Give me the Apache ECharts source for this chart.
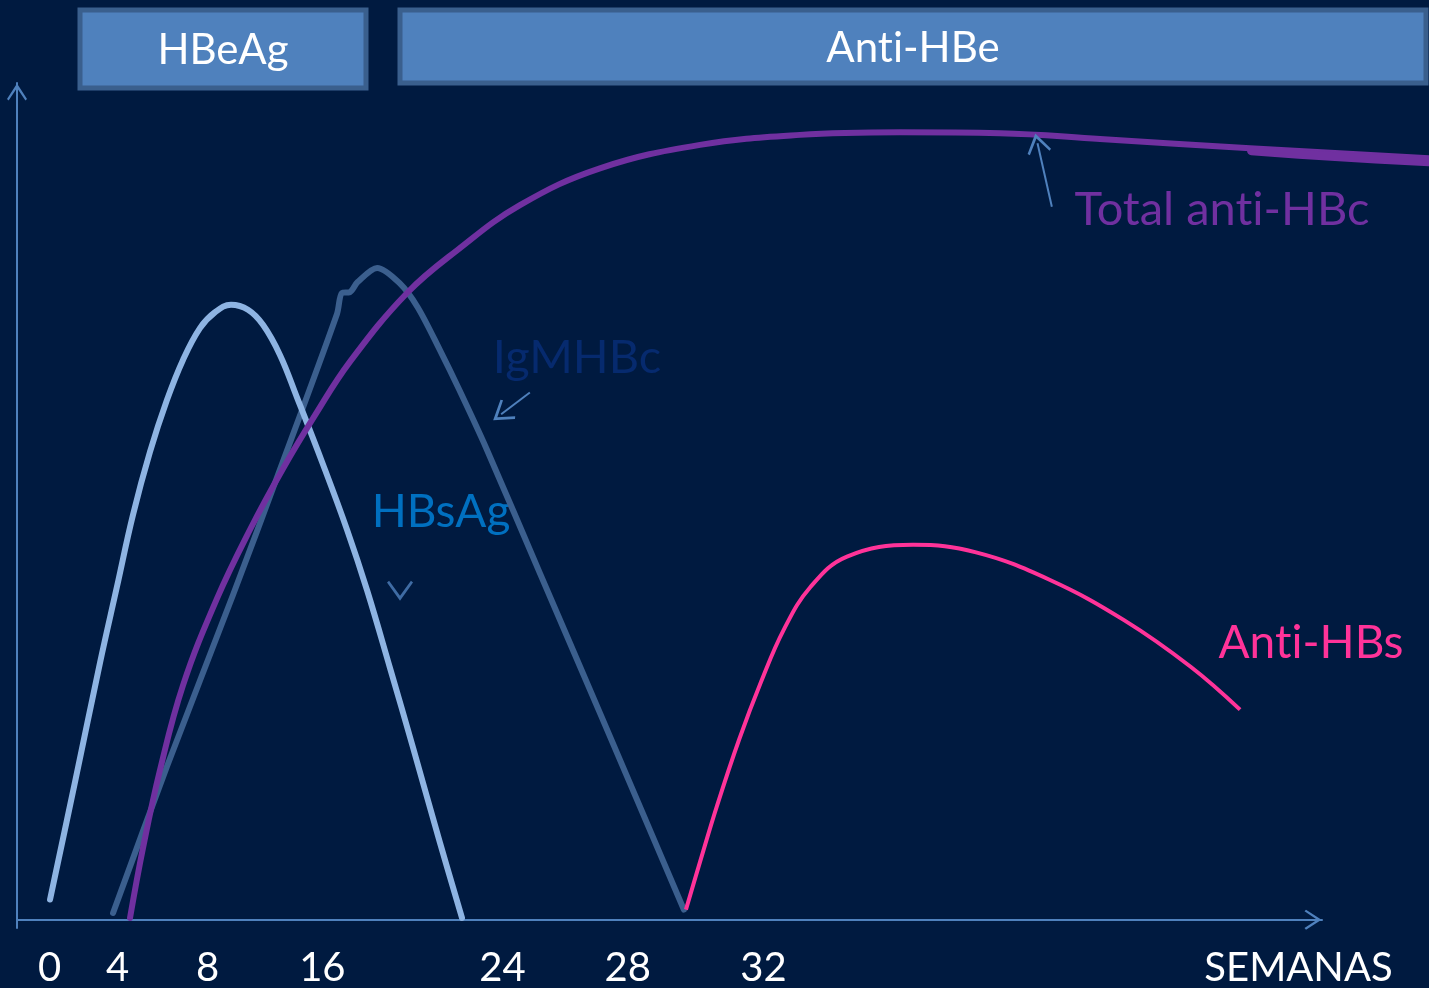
<!DOCTYPE html>
<html>
<head>
<meta charset="utf-8">
<script src="https://cdn.jsdelivr.net/npm/echarts@6/dist/echarts.min.js"></script>
<style>
html,body{margin:0;padding:0;background:#001a40;}
#chart{width:1429px;height:988px;}
</style>
</head>
<body>
<div id="chart"></div>
<script>
// x: schematic time position (0-100 along the drawn axis), y: relative level (0-100)
const tickPositions = [2.5, 7.7, 14.6, 23.4, 37.2, 46.8, 57.2, 98.2];
const tickLabels = ['0', '4', '8', '16', '24', '28', '32', 'SEMANAS'];

const hbsag = [[2.53,2.4],[4.44,16.4],[6.36,30.7],[7.66,39.8],[8.89,48.4],[10.19,55.9],[11.49,62.1],[12.72,66.9],[14.02,70.7],[15.17,72.6],[16.40,73.5],[17.70,72.9],[18.85,71.1],[20.15,67.5],[21.46,62.4],[23.45,54.4],[25.29,46.6],[26.82,39.4],[28.58,30.1],[30.34,20.6],[32.41,9.2],[34.10,0.2]];
const igmHbc = [[7.36,0.8],[11.49,18.3],[16.55,38.8],[20.15,53.8],[24.52,72.4],[24.9,74.9],[25.5,75.0],[26.1,76.2],[27.6,77.9],[29.3,76.1],[30.7,73.2],[32.4,68.1],[33.9,63.3],[36.0,56.2],[40.1,41.3],[44.7,24.6],[51.1,1.2]];
const totalAntiHbc = [[8.66,0.2],[9.66,8.6],[10.96,17.9],[12.72,28.0],[15.33,38.4],[17.85,46.6],[20.38,53.9],[22.84,60.3],[25.52,66.7],[29.89,74.9],[33.72,80.0],[38.54,85.4],[44.67,89.8],[52.34,92.6],[60.0,93.8],[67.66,94.1],[75.33,94.0],[82.99,93.3],[94.48,92.2],[108.2,91.0]];
const totalAntiHbcTail = [[94.6,91.9],[101.0,91.2],[108.2,90.6]];
const antiHbs = [[51.26,1.2],[52.34,6.9],[53.64,13.6],[55.33,21.5],[57.01,28.4],[58.77,34.7],[60.77,39.7],[63.60,43.4],[68.66,44.8],[73.49,43.9],[79.16,40.6],[84.83,35.8],[89.96,30.2],[93.72,25.1]];

// annotation arrows [start, end] in data units
const arrowTotal = [[79.3,85.2],[78.2,92.8]];
const arrowIgm = [[39.3,63.0],[37.1,60.4]];
const markerHbsag = [[29.35,39.3]];

const chevron = 'path://M10,0 L20,15.5 L18.4,17 L10,4.4 L1.6,17 L0,15.5 Z';
const axisColor = '#4f81bd';
const font = 'Lato, "Open Sans", sans-serif';

const chart = echarts.init(document.getElementById('chart'));

function arrowML(pair) {
  return [{coord: pair[0]}, {coord: pair[1]}];
}
function txt(x, y, parts, color, size) {
  const rich = {a: {fill: color, fontSize: size, fontFamily: font}};
  return {type: 'text', x: x, y: y, style: {
    text: parts.map(p => '{a|' + p + '}').join(''), rich: rich,
    fill: color, fontSize: size, fontFamily: font, align: 'center', verticalAlign: 'middle'}};
}

chart.setOption({
  backgroundColor: '#001a40',
  animation: false,
  grid: [
    {left: 17, right: 0, top: 83, bottom: 60, outerBoundsMode: 'none', containLabel: false},
    {left: 17, right: 107, top: 83, bottom: 60, outerBoundsMode: 'none', containLabel: false}
  ],
  xAxis: [
    {gridIndex: 0, type: 'value', min: 0, max: 108.2, show: false},
    {
      gridIndex: 1, type: 'value', min: 0, max: 100,
      splitLine: {show: false},
      axisTick: {show: false},
      axisLine: {
        show: true,
        lineStyle: {color: axisColor, width: 2},
        symbol: ['none', chevron],
        symbolSize: [20, 18],
        symbolOffset: [0, -9]
      },
      axisLabel: {
        customValues: tickPositions,
        color: '#ffffff',
        fontSize: 40,
        fontFamily: font,
        margin: 20,
        formatter: function (v) {
          const i = tickPositions.findIndex(p => Math.abs(p - v) < 1e-6);
          return i >= 0 ? tickLabels[i] : '';
        }
      }
    }
  ],
  yAxis: [
    {gridIndex: 0, type: 'value', min: -1, max: 100, show: false},
    {
      gridIndex: 1, type: 'value', min: -1, max: 100,
      splitLine: {show: false},
      axisTick: {show: false},
      axisLabel: {show: false},
      axisLine: {
        show: true, onZero: false,
        lineStyle: {color: axisColor, width: 2},
        symbol: ['none', chevron],
        symbolSize: [20, 18],
        symbolOffset: [0, -9]
      }
    }
  ],
  series: [
    {
      name: 'IgM anti-HBc', type: 'line', data: igmHbc, smooth: 0.3,
      showSymbol: false,
      lineStyle: {color: '#3b5f8e', width: 6, cap: 'round', join: 'round'},
      markLine: {
        silent: true, symbol: ['none', chevron], symbolSize: [24, 20],
        lineStyle: {color: axisColor, width: 2, type: 'solid'},
        label: {show: false},
        emphasis: {disabled: true},
        data: [arrowML(arrowTotal), arrowML(arrowIgm)]
      }
    },
    {
      name: 'HBsAg', type: 'line', data: hbsag, smooth: 0.4,
      showSymbol: false,
      lineStyle: {color: '#8eb4e3', width: 6, cap: 'round', join: 'round'}
    },
    {
      name: 'HBsAg marker', type: 'scatter', data: markerHbsag,
      symbol: chevron, symbolSize: [26, 20], symbolRotate: 180,
      itemStyle: {color: axisColor}, silent: true
    },
    {
      name: 'Total anti-HBc', type: 'line', data: totalAntiHbc, smooth: 0.4,
      showSymbol: false,
      lineStyle: {color: '#7030a0', width: 6, cap: 'round', join: 'round'}
    },
    {
      name: 'Total anti-HBc tail', type: 'line', data: totalAntiHbcTail, smooth: 0.3,
      showSymbol: false,
      lineStyle: {color: '#7030a0', width: 9, cap: 'round'}
    },
    {
      name: 'Anti-HBs', type: 'line', data: antiHbs, smooth: 0.4,
      showSymbol: false,
      lineStyle: {color: '#ff3399', width: 4}
    }
  ],
  graphic: [
    {type: 'rect', shape: {x: 80, y: 10, width: 286, height: 78},
     style: {fill: '#4f81bd', stroke: '#3a5f8d', lineWidth: 5}},
    {type: 'rect', shape: {x: 400, y: 10, width: 1026, height: 73},
     style: {fill: '#4f81bd', stroke: '#3a5f8d', lineWidth: 5}},
    txt(223, 50, ['HBeAg'], '#ffffff', 42),
    txt(913, 48, ['Ant', 'i-HBe'], '#ffffff', 42),
    txt(1222, 210, ['Total ant', 'i-HBc'], '#7030a0', 47),
    txt(577, 358, ['IgMHBc'], '#062a6e', 47),
    txt(441, 512, ['HBsAg'], '#0070c0', 46),
    txt(1311, 643, ['Ant', 'i-HBs'], '#ff3399', 46)
  ]
});
</script>
</body>
</html>
